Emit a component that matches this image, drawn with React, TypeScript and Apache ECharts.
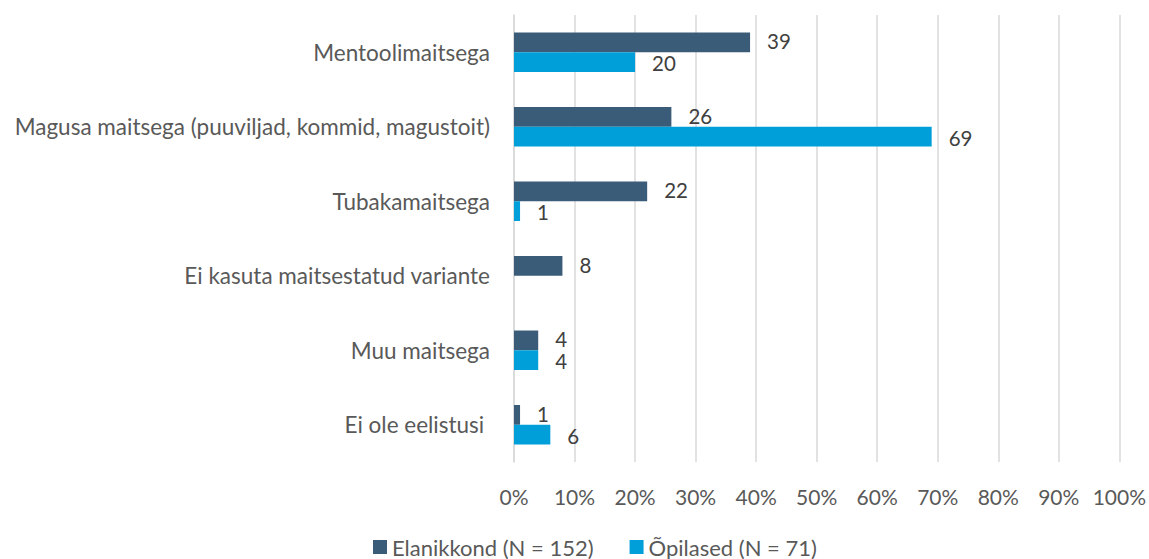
import React, { useEffect, useRef } from "react";
import * as echarts from "echarts";

const categories = [
  "Mentoolimaitsega",
  "Magusa maitsega (puuviljad, kommid, magustoit)",
  "Tubakamaitsega",
  "Ei kasuta maitsestatud variante",
  "Muu maitsega",
  "Ei ole eelistusi ",
];
const elanikkond = [39, 26, 22, 8, 4, 1];
const opilased = [20, 69, 1, null, 4, 6];
const seriesNames = ["Elanikkond (N = 152)", "Õpilased (N = 71)"];

const FONT = "Lato, 'Open Sans', sans-serif";

export default function App() {
  const ref = useRef<HTMLDivElement>(null);
  useEffect(() => {
    document.body.style.margin = "0";
    if (!ref.current) return;
    const chart = echarts.init(ref.current, undefined, { renderer: "svg" });
    const labelStyle = {
      show: true,
      position: "right" as const,
      distance: 17,
      color: "#404040",
      fontSize: 20.5,
      lineHeight: 17,
      fontFamily: FONT,
    };
    chart.setOption({
      animation: false,
      textStyle: { fontFamily: FONT },
      grid: { left: 514, right: 28, top: 15, bottom: 97, containLabel: false },
      legend: {
        top: 531,
        left: 368,
        itemWidth: 14,
        itemHeight: 14,
        itemGap: 36,
        icon: "rect",
        textStyle: { color: "#595959", fontSize: 22, fontFamily: FONT },
        data: seriesNames,
      },
      xAxis: {
        type: "value",
        min: 0,
        max: 100,
        interval: 10,
        axisLabel: {
          formatter: "{value}%",
          color: "#595959",
          fontSize: 21,
          fontFamily: FONT,
          margin: 24,
        },
        axisLine: { show: false },
        axisTick: { show: false },
        splitLine: { show: true, lineStyle: { color: "#D9D9D9", width: 1.5 } },
      },
      yAxis: {
        type: "category",
        inverse: true,
        data: categories,
        axisLine: { show: true, lineStyle: { color: "#D9D9D9", width: 1.5 } },
        axisTick: { show: false },
        axisLabel: {
          color: "#595959",
          fontSize: 22.5,
          fontFamily: FONT,
          margin: 24,
        },
      },
      series: [
        {
          name: seriesNames[0],
          type: "bar",
          data: elanikkond,
          barGap: "0%",
          barCategoryGap: "47%",
          itemStyle: { color: "#3A5C78" },
          label: { ...labelStyle, offset: [0, -1] },
        },
        {
          name: seriesNames[1],
          type: "bar",
          data: opilased,
          barGap: "0%",
          barCategoryGap: "47%",
          itemStyle: { color: "#009FDA" },
          label: { ...labelStyle, offset: [0, 1] },
        },
      ],
    });
    return () => chart.dispose();
  }, []);
  return <div ref={ref} style={{ width: 1149, height: 559 }} />;
}
